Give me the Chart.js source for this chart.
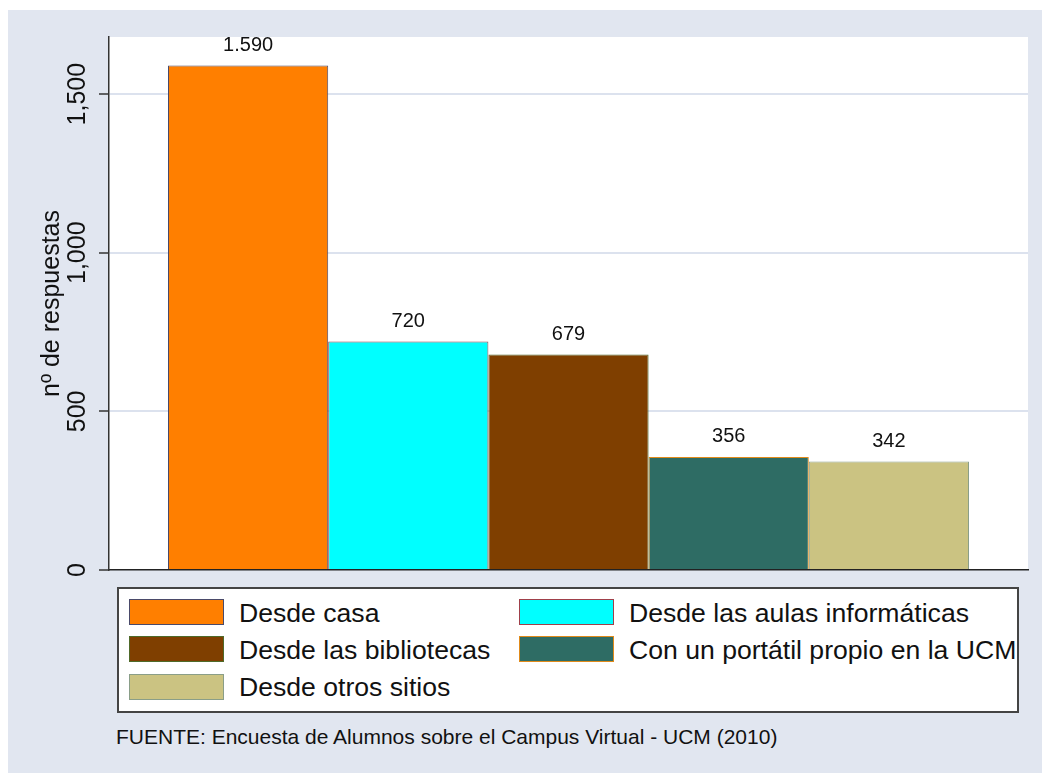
<!DOCTYPE html>
<html><head><meta charset="utf-8">
<script src="https://cdn.jsdelivr.net/npm/chart.js@4"></script>
<style>
html,body{margin:0;padding:0;background:#fff;width:1042px;height:773px;overflow:hidden;font-family:"Liberation Sans",Arial,Helvetica,sans-serif;color:#111;}
#bg{position:absolute;left:8px;top:10px;width:1034px;height:763px;background:#e1e6f0;}
#c{position:absolute;left:8px;top:10px;}
#legendBox{position:absolute;left:117px;top:587px;width:902px;height:126px;box-sizing:border-box;border:2px solid #444;background:#fff;}
.sw{position:absolute;width:95px;height:26px;box-sizing:border-box;border:1px solid #444;}
.lt{position:absolute;font-size:26.6px;line-height:30px;white-space:nowrap;}
#source{position:absolute;left:116px;top:725px;font-size:21px;line-height:24px;white-space:nowrap;}
</style></head>
<body>
<div id="bg"></div>
<canvas id="c" width="1034" height="580"></canvas>
<div id="legendBox"></div>
<div id="legendItems"></div>
<div id="source"></div>
<script>
// ---- data ----
const categories = ["Desde casa", "Desde las aulas informáticas", "Desde las bibliotecas", "Con un portátil propio en la UCM", "Desde otros sitios"];
const values = [1590, 720, 679, 356, 342];
const fillColors = ["#ff7f00", "#00ffff", "#7f3f00", "#2e6c64", "#cbc382"];
const edgeColors = ["#4a4a6a", "#a0404a", "#4f6a2a", "#e08a1a", "#8a9e88"];
const yTicks = [0, 500, 1000, 1500];
const yMax = 1680;
const yTitle = "nº de respuestas";
const sourceText = "FUENTE: Encuesta de Alumnos sobre el Campus Virtual - UCM (2010)";

const FONT = '"Liberation Sans", Arial, Helvetica, sans-serif';

function fmtDot(v){ return String(v).replace(/\B(?=(\d{3})+(?!\d))/g, "."); }
function fmtComma(v){ return String(v).replace(/\B(?=(\d{3})+(?!\d))/g, ","); }

const areaBg = {
  id: 'areaBg',
  beforeDraw(chart){
    const {ctx, chartArea:a} = chart;
    ctx.save(); ctx.fillStyle = '#ffffff';
    ctx.fillRect(a.left, a.top, a.right - a.left, a.bottom - a.top);
    ctx.restore();
  }
};
const valueLabels = {
  id: 'valueLabels',
  afterDatasetsDraw(chart){
    const ctx = chart.ctx;
    ctx.save();
    ctx.font = '20px ' + FONT; ctx.fillStyle = '#111';
    ctx.textAlign = 'center'; ctx.textBaseline = 'middle';
    chart.data.datasets.forEach((ds, i) => {
      const el = chart.getDatasetMeta(i).data[0];
      ctx.fillText(fmtDot(ds.data[0]), el.x, el.y - 20.5);
    });
    ctx.restore();
  }
};

const datasets = categories.map((name, i) => ({
  label: name,
  data: [values[i]],
  backgroundColor: fillColors[i],
  borderColor: edgeColors[i],
  borderWidth: 1,
  categoryPercentage: 0.8716,
  barPercentage: 1
}));

new Chart(document.getElementById('c'), {
  type: 'bar',
  data: { labels: [''], datasets },
  options: {
    responsive: false,
    devicePixelRatio: 1,
    animation: false,
    layout: { padding: { top: 27, right: 14, bottom: 20, left: 0 } },
    plugins: { legend: { display: false }, tooltip: { enabled: false } },
    scales: {
      x: {
        type: 'category',
        ticks: { display: false },
        grid: { display: false, drawTicks: false },
        border: { display: true, color: '#222', width: 1.5 },
        afterFit(s){ s.height = 0; }
      },
      y: {
        min: 0, max: yMax,
        afterFit(s){ s.width = 101; },
        afterBuildTicks(s){ s.ticks = yTicks.map(v => ({ value: v })); },
        title: { display: true, text: yTitle, color: '#111', font: { family: FONT, size: 25 }, padding: { top: 29, bottom: 0 } },
        ticks: {
          color: '#111', font: { family: FONT, size: 25 },
          minRotation: 90, maxRotation: 90, crossAlign: 'center', padding: -10,
          callback: v => fmtComma(v)
        },
        grid: {
          color: ctx => (ctx.tick && ctx.tick.value === 0) ? 'rgba(0,0,0,0)' : '#dce2ee',
          lineWidth: 2, drawTicks: true, tickLength: 10, tickColor: '#333', tickWidth: 1.5
        },
        border: { display: true, color: '#333', width: 1.5 }
      }
    }
  },
  plugins: [areaBg, valueLabels]
});

// ---- legend (HTML, built from the arrays) ----
const li = document.getElementById('legendItems');
const colX = [129, 519], textX = [239, 629], rowTop = [599, 636, 673.5];
categories.forEach((name, i) => {
  const col = i % 2, row = Math.floor(i / 2);
  const sw = document.createElement('div');
  sw.className = 'sw';
  sw.style.left = colX[col] + 'px'; sw.style.top = rowTop[row] + 'px';
  sw.style.background = fillColors[i]; sw.style.borderColor = edgeColors[i];
  li.appendChild(sw);
  const t = document.createElement('div');
  t.className = 'lt'; t.textContent = name;
  t.style.left = textX[col] + 'px'; t.style.top = (rowTop[row] + 13 - 14.5) + 'px';
  li.appendChild(t);
});
document.getElementById('source').textContent = sourceText;
</script>
</body></html>
